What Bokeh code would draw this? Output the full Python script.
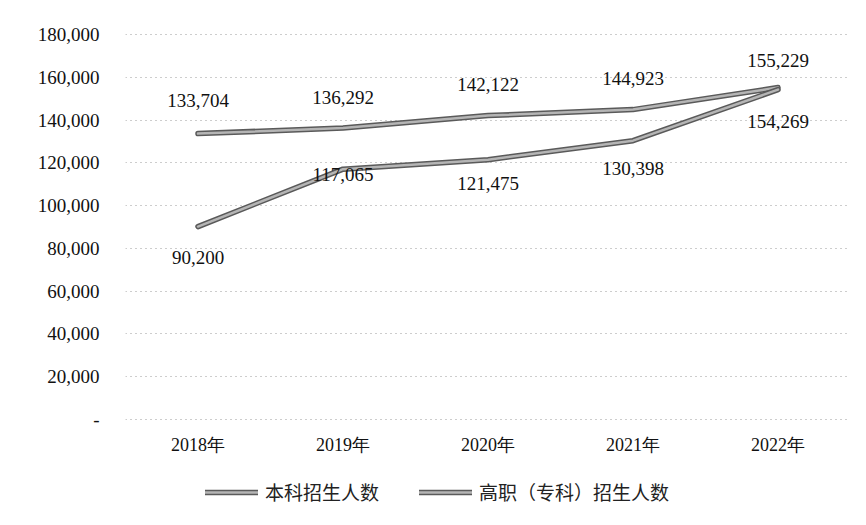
from bokeh.plotting import figure
from bokeh.layouts import column
from bokeh.models import ColumnDataSource, Legend, LegendItem, CustomJSTickFormatter, FixedTicker
from bokeh.core.properties import value
from bokeh.embed import file_html
from bokeh.resources import INLINE

years = ["2018年", "2019年", "2020年", "2021年", "2022年"]
benke = [133704, 136292, 142122, 144923, 155229]
gaozhi = [90200, 117065, 121475, 130398, 154269]
y_ticks = [0, 20000, 40000, 60000, 80000, 100000, 120000, 140000, 160000, 180000]
series_names = ["本科招生人数", "高职（专科）招生人数"]

benke_label_dy = [-33, -31, -31, -31, -27]
gaozhi_label_dy = [31, 5, 24, 28, 32]

SERIF = "Liberation Serif"
OUTER = dict(line_color="#5a5a5a", line_width=5.5, line_join="round", line_cap="round")
INNER = dict(line_color="#b5b5b5", line_width=2.5, line_join="round", line_cap="round")

p = figure(x_range=years, y_range=(-1000, 181000), width=850, height=457,
           output_backend="svg", toolbar_location=None,
           min_border_left=125, min_border_right=0, min_border_top=32, min_border_bottom=32)
p.outline_line_color = None
p.background_fill_color = "white"
p.border_fill_color = "white"

p.xgrid.grid_line_color = None
p.ygrid.grid_line_color = "#9a9a9a"
p.ygrid.grid_line_dash = "1 4"
p.ygrid.grid_line_width = 1

p.yaxis.ticker = FixedTicker(ticks=y_ticks)
p.yaxis.formatter = CustomJSTickFormatter(code="return tick == 0 ? '-' : tick.toLocaleString('en-US');")
for ax in (p.xaxis[0], p.yaxis[0]):
    ax.axis_line_color = None
    ax.major_tick_line_color = None
    ax.minor_tick_line_color = None
    ax.major_label_text_font = SERIF
    ax.major_label_text_color = "#111111"
p.yaxis.major_label_text_font_size = "19px"
p.yaxis.major_label_standoff = 20
p.xaxis.major_label_text_font_size = "18px"
p.xaxis.major_label_standoff = 7

src1 = ColumnDataSource(dict(x=years, y=benke, t=[f"{v:,}" for v in benke], dy=benke_label_dy))
src2 = ColumnDataSource(dict(x=years, y=gaozhi, t=[f"{v:,}" for v in gaozhi], dy=gaozhi_label_dy))

for src in (src1, src2):
    p.line("x", "y", source=src, **OUTER)
    p.line("x", "y", source=src, **INNER)

for src in (src1, src2):
    p.text("x", "y", text="t", source=src, y_offset="dy", text_align="center", text_baseline="middle",
           text_font=value(SERIF), text_font_size="19px", text_color="#111111")

# legend strip below the chart (its frame is aligned with the chart's frame)
lg = figure(width=850, height=52, output_backend="svg", toolbar_location=None,
            x_range=(0, 1), y_range=(0, 1), min_border=0,
            x_axis_location=None, y_axis_location=None)
lg.outline_line_color = None
lg.grid.visible = False
items = []
for name in series_names:
    a = lg.line(x=[-5, -4], y=[-5, -4], **OUTER)
    b = lg.line(x=[-5, -4], y=[-5, -4], **INNER)
    items.append(LegendItem(label=name, renderers=[a, b]))
legend = Legend(items=items, orientation="horizontal", location=(80, 4))
legend.border_line_color = None
legend.background_fill_alpha = 0
legend.label_text_font = "Noto Sans CJK SC"
legend.label_text_font_size = "19px"
legend.label_text_color = "#222222"
legend.glyph_width = 53
legend.label_standoff = 7
legend.spacing = 40
legend.padding = 0
legend.margin = 0
lg.add_layout(legend)

layout = column(p, lg, spacing=0)
open("out.html", "w").write(file_html(layout, INLINE))
